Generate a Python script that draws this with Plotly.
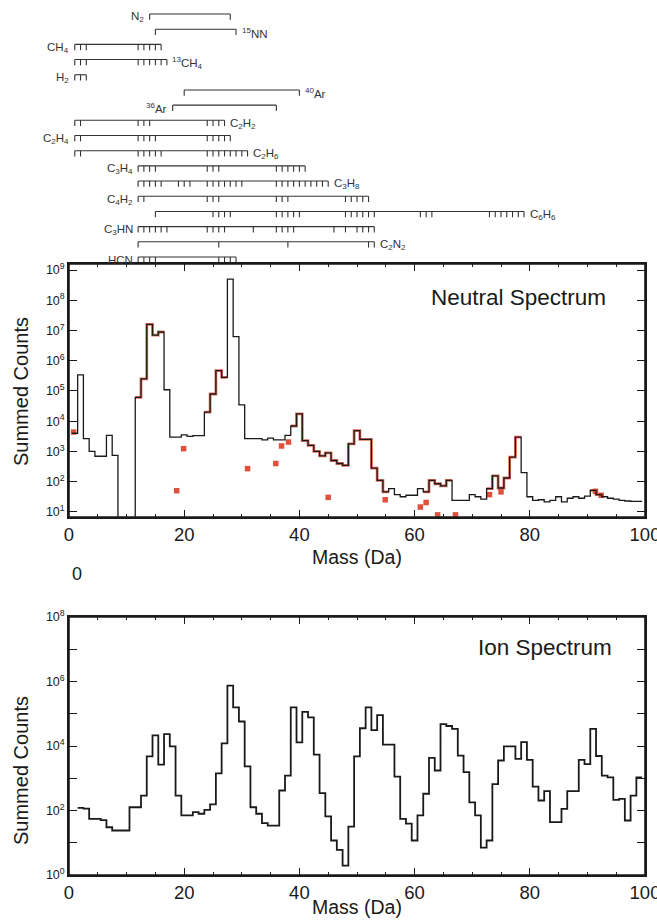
import plotly.graph_objects as go

W, H = 657, 922
FONT = "Liberation Sans, Arial, sans-serif"

# log10(summed counts) per 1 Da bin, neutral spectrum, masses 1..99
neutral_first_mass = 1
neutral_log_counts = [
    3.6, 5.53, 3.42, 3.0, 2.84, 2.84, 3.53, 2.87, 0.0, 0.0,
    0.0, 4.79, 5.4, 7.2, 6.85, 6.95, 5.04, 3.47, 3.47, 3.55,
    3.5, 3.52, 3.52, 4.3, 4.9, 5.67, 5.45, 8.7, 6.8, 4.54,
    3.42, 3.42, 3.42, 3.38, 3.44, 3.38, 3.38, 3.53, 3.84, 4.24,
    3.36, 3.2, 3.0, 2.85, 2.95, 2.7, 2.6, 2.54, 3.25, 3.69,
    3.4, 3.4, 2.45, 2.04, 1.66, 1.77, 1.57, 1.5, 1.55, 1.55,
    1.77, 1.66, 2.04, 1.93, 1.86, 2.04, 1.38, 1.38, 1.38, 1.57,
    1.5, 1.42, 1.77, 2.19, 1.79, 2.12, 2.81, 3.47, 2.3, 1.5,
    1.38, 1.4, 1.33, 1.38, 1.5, 1.33, 1.45, 1.5, 1.45, 1.52,
    1.71, 1.57, 1.5, 1.45, 1.42, 1.38, 1.36, 1.35, 1.35,
]

# mass ranges where the red model steps follow the measured spectrum
model_ranges = [(12, 16), (24, 27), (39, 55), (62, 66), (73, 78), (91, 92)]
# isolated red model points
model_point_mass = [0.8, 18.7, 19.9, 31, 35.9, 36.9, 38.1, 45, 54.9, 61, 62, 64, 67.1, 73, 75, 91.4, 92.4]
model_point_log = [3.64, 1.7, 3.09, 2.43, 2.6, 3.18, 3.31, 1.48, 1.4, 1.16, 1.31, 0.9, 0.9, 1.57, 1.66, 1.68, 1.55]

# log10(summed counts) per 1 Da bin, ion spectrum, masses 2..99
ion_first_mass = 2
ion_log_counts = [
    2.08, 2.06, 1.74, 1.74, 1.7, 1.48, 1.38, 1.38, 1.38, 2.1,
    2.1, 2.46, 3.68, 4.33, 3.42, 4.37, 3.99, 2.46, 1.85, 1.85,
    1.95, 1.9, 2.02, 2.19, 3.15, 4.08, 5.87, 5.2, 4.76, 3.37,
    2.1, 1.9, 1.61, 1.53, 1.53, 2.62, 3.08, 5.2, 4.11, 5.06,
    4.89, 3.73, 2.54, 1.82, 1.07, 0.78, 0.29, 1.5, 3.68, 4.55,
    5.2, 4.49, 4.96, 4.04, 4.04, 3.05, 1.74, 1.59, 1.07, 1.85,
    2.52, 3.63, 3.24, 4.68, 4.62, 4.53, 3.7, 3.19, 2.25, 1.85,
    0.85, 1.07, 2.82, 3.55, 3.99, 3.99, 3.6, 4.12, 3.57, 2.74,
    2.31, 2.6, 1.64, 1.64, 2.05, 2.6, 2.6, 3.57, 3.44, 4.53,
    3.69, 3.08, 3.03, 2.33, 2.36, 1.69, 2.46, 3.03,
]

# fragment / isotope pattern rows above the neutral spectrum
species_labels = [
    "N<sub>2</sub>", "<sup>15</sup>NN", "CH<sub>4</sub>", "<sup>13</sup>CH<sub>4</sub>",
    "H<sub>2</sub>", "<sup>40</sup>Ar", "<sup>36</sup>Ar", "C<sub>2</sub>H<sub>2</sub>",
    "C<sub>2</sub>H<sub>4</sub>", "C<sub>2</sub>H<sub>6</sub>", "C<sub>3</sub>H<sub>4</sub>",
    "C<sub>3</sub>H<sub>8</sub>", "C<sub>4</sub>H<sub>2</sub>", "C<sub>6</sub>H<sub>6</sub>",
    "C<sub>3</sub>HN", "C<sub>2</sub>N<sub>2</sub>", "HCN",
]
species_label_side = ["left", "right"] * 8 + ["left"]
species_masses = [
    [14, 28],
    [15, 29],
    [1, 2, 3, 12, 13, 14, 15, 16],
    [1, 2, 3, 12, 13, 14, 15, 16, 17],
    [1, 2, 3],
    [20, 40],
    [18, 36],
    [1, 2, 12, 13, 14, 24, 25, 26, 27],
    [1, 2, 12, 13, 14, 15, 24, 25, 26, 27, 28],
    [1, 2, 12, 13, 14, 15, 16, 24, 25, 26, 27, 28, 29, 30, 31],
    [12, 13, 14, 15, 24, 25, 26, 36, 37, 38, 39, 40, 41],
    [12, 13, 14, 15, 16, 19, 20, 21, 24, 25, 26, 27, 28, 29, 30,
     36, 37, 38, 39, 40, 41, 42, 43, 44, 45],
    [12, 13, 24, 25, 26, 36, 37, 38, 48, 49, 50, 51, 52],
    [15, 25, 26, 27, 28, 36, 37, 38, 39, 40, 48, 49, 50, 51, 52, 53,
     61, 62, 63, 73, 74, 75, 76, 77, 78, 79],
    [12, 13, 14, 15, 16, 17, 24, 25, 26, 27, 32, 36, 37, 38, 39, 46, 48, 50, 51, 52, 53],
    [12, 26, 38, 52, 53],
    [12, 13, 14, 15, 26, 27, 28, 29],
]


def px(x):
    # page pixel -> paper fraction
    return x / W


def py(y):
    return 1 - y / H


def steps(first_mass, logs):
    x = [first_mass + i - 0.5 for i in range(len(logs))]
    x.append(first_mass + len(logs) - 0.5)
    y = [10 ** v for v in logs] + [10 ** logs[-1]]
    return x, y


X_DOMAIN = [px(69), px(645)]
NEUTRAL_DOMAIN = [py(517), py(264)]
ION_DOMAIN = [py(875), py(617)]
# diagram rows: row 0 at page y=14, row 16 at page y=257
ROW0_Y, ROW_STEP = 14, (257 - 14) / 16
DIAGRAM_BOTTOM = 262
DIAGRAM_DOMAIN = [py(DIAGRAM_BOTTOM), 1.0]
diag_range = [(DIAGRAM_BOTTOM - ROW0_Y) / ROW_STEP, -ROW0_Y / ROW_STEP]

RED = "#dc3f26"
INK = "#1a1a1a"

fig = go.Figure()

# red model steps, drawn below the measured spectrum
mx, my = [], []
for a, b in model_ranges:
    seg = neutral_log_counts[a - neutral_first_mass:b - neutral_first_mass + 1]
    sx, sy = steps(a, seg)
    mx += sx + [None]
    my += sy + [None]
fig.add_trace(go.Scatter(
    x=mx, y=my, mode="lines", line={"shape": "hv", "color": RED, "width": 2.8},
    opacity=0.75, xaxis="x", yaxis="y", hoverinfo="skip",
))
fig.add_trace(go.Scatter(
    x=model_point_mass, y=[10 ** v for v in model_point_log], mode="markers",
    marker={"symbol": "square", "size": 5.5, "color": RED, "line": {"width": 0}},
    opacity=0.9, xaxis="x", yaxis="y",
))

nx, ny = steps(neutral_first_mass, neutral_log_counts)
fig.add_trace(go.Scatter(
    x=nx, y=ny, mode="lines", line={"shape": "hv", "color": INK, "width": 1.3},
    xaxis="x", yaxis="y",
))

ix, iy = steps(ion_first_mass, ion_log_counts)
fig.add_trace(go.Scatter(
    x=ix, y=iy, mode="lines", line={"shape": "hv", "color": INK, "width": 1.8},
    xaxis="x2", yaxis="y2",
))

# fragment pattern brackets
TICK = 0.38
bx, by = [], []
for row, masses in enumerate(species_masses):
    bx += [min(masses), max(masses), None]
    by += [row, row, None]
    for m in masses:
        bx += [m, m, None]
        by += [row, row + TICK, None]
fig.add_trace(go.Scatter(
    x=bx, y=by, mode="lines", line={"color": "#333333", "width": 1.1},
    xaxis="x3", yaxis="y3", hoverinfo="skip",
))

annotations = []
for row, (label, side, masses) in enumerate(zip(species_labels, species_label_side, species_masses)):
    if side == "left":
        ax_x, anchor = min(masses) - 0.6, "right"
    else:
        ax_x, anchor = max(masses) + 0.6, "left"
    annotations.append(dict(
        x=ax_x, y=row + 0.22, xref="x3", yref="y3", text=label, showarrow=False,
        xanchor=anchor, yanchor="middle", font={"size": 11.5, "color": "#333333"},
    ))

page_texts = [
    dict(x=px(518), y=py(297), text="Neutral Spectrum", font={"size": 22.5}),
    dict(x=px(545), y=py(647), text="Ion Spectrum", font={"size": 22.5}),
    dict(x=px(357), y=py(557), text="Mass (Da)", font={"size": 19.5}),
    dict(x=px(357), y=py(907), text="Mass (Da)", font={"size": 19.5}),
    dict(x=px(21), y=py(392), text="Summed Counts", textangle=-90, font={"size": 20}),
    dict(x=px(21), y=py(771), text="Summed Counts", textangle=-90, font={"size": 20}),
    dict(x=px(77), y=py(574), text="0", font={"size": 18}),
]
for a in page_texts:
    a.update(xref="paper", yref="paper", showarrow=False, xanchor="center", yanchor="middle")
annotations += page_texts

# plot frames
frames = [
    dict(type="rect", xref=f"{xa} domain", yref=f"{ya} domain", x0=0, x1=1, y0=0, y1=1,
         line={"color": INK, "width": 1.6}, fillcolor="rgba(0,0,0,0)", layer="above")
    for xa, ya in (("x", "y"), ("x2", "y2"))
]

x_common = dict(
    domain=X_DOMAIN, range=[0, 100], tickvals=[0, 20, 40, 60, 80, 100],
    ticks="inside", ticklen=7, tickwidth=1.3, tickcolor=INK,
    showline=True, linecolor=INK, linewidth=1.6, mirror="ticks",
    showgrid=False, zeroline=False, tickfont={"size": 18.5},
    ticklabeloverflow="allow", automargin=False,
    minor={"dtick": 5, "ticks": "inside", "ticklen": 3.5, "tickcolor": INK, "showgrid": False},
)
y_common = dict(
    type="log", ticks="inside", ticklen=8, tickwidth=1.3, tickcolor=INK,
    showline=True, linecolor=INK, linewidth=1.6, mirror="ticks",
    showgrid=False, zeroline=False, tickfont={"size": 12.5}, automargin=False,
)

neutral_exp = list(range(1, 10))
ion_exp = list(range(0, 9))

fig.update_layout(
    width=W, height=H, showlegend=False, autosize=False,
    template="plotly_white",
    paper_bgcolor="white", plot_bgcolor="white",
    margin={"l": 0, "r": 0, "t": 0, "b": 0, "pad": 0, "autoexpand": False},
    font={"family": FONT, "color": INK},
    xaxis=dict(x_common, anchor="y"),
    yaxis=dict(
        y_common, domain=NEUTRAL_DOMAIN, anchor="x", range=[0.83, 9.2],
        tickvals=[10 ** k for k in neutral_exp],
        ticktext=[f"10<sup>{k}</sup>" for k in neutral_exp],
    ),
    xaxis2=dict(x_common, anchor="y2"),
    yaxis2=dict(
        y_common, domain=ION_DOMAIN, anchor="x2", range=[0, 8],
        tickvals=[10 ** k for k in ion_exp],
        ticktext=[f"10<sup>{k}</sup>" if k % 2 == 0 else "" for k in ion_exp],
    ),
    xaxis3=dict(domain=X_DOMAIN, range=[0, 100], visible=False, anchor="y3", automargin=False),
    yaxis3=dict(domain=DIAGRAM_DOMAIN, range=diag_range, visible=False, anchor="x3", automargin=False),
    annotations=annotations,
    shapes=frames,
)

# drop the browser's default body margin so the figure fills the window exactly
fig.write_html(
    "out.html",
    config={"displayModeBar": False},
    post_script="document.body.style.margin='0';document.body.style.overflow='hidden';",
)
